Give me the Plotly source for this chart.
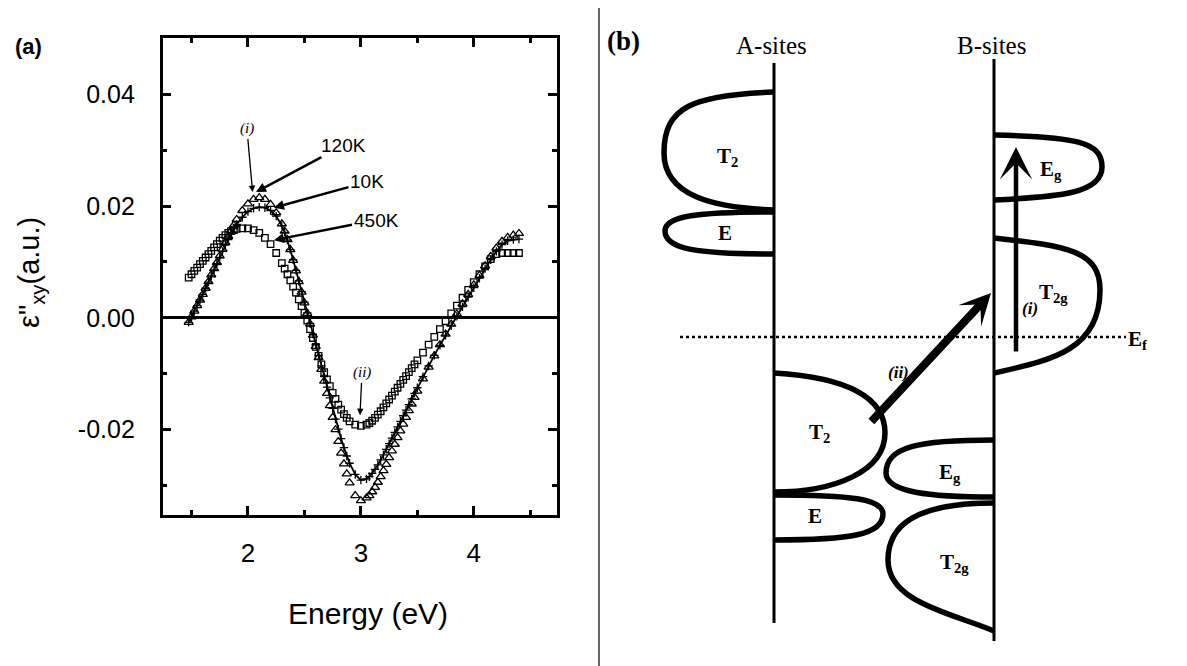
import plotly.graph_objects as go

W, H = 1187, 666
PAGE_MARGIN = 8  # default body margin of the html page: figure is drawn 8px right/down

# ---------------- panel (a) data ----------------
energy = [1.475, 1.500, 1.525, 1.550, 1.575, 1.600, 1.625, 1.650, 1.675, 1.700, 1.725, 1.750, 1.775, 1.800, 1.825, 1.850, 1.875, 1.900,
          1.95, 2.00, 2.05, 2.10, 2.15, 2.20, 2.25, 2.30,
          2.325, 2.350, 2.375, 2.400, 2.425, 2.450, 2.475, 2.500, 2.525, 2.550, 2.575, 2.600, 2.625, 2.650, 2.675, 2.700,
          2.725, 2.750, 2.775, 2.800, 2.825, 2.850, 2.875, 2.900,
          2.95, 3.00, 3.05,
          3.075, 3.100, 3.125, 3.150, 3.175, 3.200, 3.225, 3.250, 3.275, 3.300, 3.325, 3.350, 3.375, 3.400, 3.425, 3.450, 3.475, 3.500,
          3.55, 3.60, 3.65, 3.70, 3.75, 3.80, 3.85, 3.90, 3.95, 4.00, 4.05, 4.10, 4.15, 4.20, 4.25, 4.30, 4.35, 4.40]

eps_120K = [-0.0008, 0.0002, 0.0012, 0.0022, 0.0032, 0.0042, 0.0053, 0.0065, 0.0077, 0.0088, 0.0099, 0.0111, 0.0123, 0.0135, 0.0146, 0.0156, 0.0166, 0.0176,
            0.0192, 0.0204, 0.0212, 0.0215, 0.0212, 0.0203, 0.0188, 0.0168,
            0.0155, 0.0140, 0.0122, 0.0103, 0.0084, 0.0065, 0.0046, 0.0027, 0.0008, -0.0011, -0.0031, -0.0051, -0.0071, -0.0092, -0.0113, -0.0135,
            -0.0157, -0.0178, -0.0200, -0.0221, -0.0242, -0.0261, -0.0279, -0.0295,
            -0.0318, -0.0327, -0.0322,
            -0.0318, -0.0311, -0.0303, -0.0294, -0.0284, -0.0273, -0.0262, -0.0250, -0.0238, -0.0226, -0.0214, -0.0202, -0.0190, -0.0178, -0.0166, -0.0154, -0.0142, -0.0131,
            -0.0109, -0.0088, -0.0068, -0.0048, -0.0029, -0.0011, 0.0007, 0.0025, 0.0042, 0.0059, 0.0076, 0.0093, 0.0110, 0.0125, 0.0137, 0.0144, 0.0148, 0.0151]

eps_10K = [-0.0008, 0.0002, 0.0012, 0.0022, 0.0032, 0.0042, 0.0053, 0.0064, 0.0075, 0.0086, 0.0097, 0.0108, 0.0119, 0.0130, 0.0140, 0.0150, 0.0159, 0.0167,
           0.0180, 0.0190, 0.0196, 0.0198, 0.0197, 0.0192, 0.0182, 0.0165,
           0.0153, 0.0139, 0.0122, 0.0104, 0.0085, 0.0066, 0.0047, 0.0028, 0.0009, -0.0010, -0.0029, -0.0048, -0.0067, -0.0086, -0.0105, -0.0124,
           -0.0143, -0.0162, -0.0181, -0.0199, -0.0216, -0.0232, -0.0247, -0.0260,
           -0.0280, -0.0290, -0.0288,
           -0.0284, -0.0278, -0.0271, -0.0263, -0.0254, -0.0245, -0.0235, -0.0225, -0.0215, -0.0205, -0.0195, -0.0185, -0.0175, -0.0165, -0.0155, -0.0145, -0.0135, -0.0125,
           -0.0105, -0.0086, -0.0067, -0.0049, -0.0031, -0.0014, 0.0003, 0.0020, 0.0037, 0.0054, 0.0071, 0.0088, 0.0104, 0.0119, 0.0131, 0.0138, 0.0140, 0.0141]

eps_450K = [0.0072, 0.0078, 0.0084, 0.0090, 0.0096, 0.0102, 0.0108, 0.0114, 0.0120, 0.0126, 0.0132, 0.0138, 0.0143, 0.0148, 0.0152, 0.0155, 0.0157, 0.0159,
            0.0160, 0.0160, 0.0157, 0.0152, 0.0143, 0.0132, 0.0116, 0.0098,
            0.0088, 0.0078, 0.0067, 0.0056, 0.0045, 0.0033, 0.0021, 0.0009, -0.0005, -0.0020, -0.0036, -0.0052, -0.0068, -0.0083, -0.0097, -0.0110,
            -0.0122, -0.0134, -0.0145, -0.0155, -0.0164, -0.0172, -0.0179, -0.0185,
            -0.0191, -0.0193, -0.0191,
            -0.0188, -0.0184, -0.0179, -0.0173, -0.0167, -0.0160, -0.0153, -0.0146, -0.0139, -0.0132, -0.0125, -0.0118, -0.0111, -0.0104, -0.0097, -0.0090, -0.0083, -0.0076,
            -0.0062, -0.0048, -0.0034, -0.0020, -0.0006, 0.0008, 0.0022, 0.0036, 0.0050, 0.0064, 0.0078, 0.0092, 0.0105, 0.0114, 0.0116, 0.0116, 0.0116, 0.0116]

x_tick_vals = [2, 3, 4]
x_tick_text = ["2", "3", "4"]
x_minor_vals = [1.5, 2.5, 3.5, 4.5]
y_tick_vals = [0.04, 0.02, 0.0, -0.02]
y_tick_text = ["0.04", "0.02", "0.00", "-0.02"]
y_minor_vals = [0.03, 0.01, -0.01, -0.03]
x_range = [1.244, 4.735]
y_range = [-0.0352, 0.0500]

# curve labels: (text, arrow tip E, tip value, text E, text value)
curve_labels = [("120K", 2.071, 0.0225, 2.850, 0.0309),
                ("10K", 2.230, 0.0197, 3.054, 0.0243),
                ("450K", 2.230, 0.0139, 3.134, 0.0175)]
feature_labels = [("(i)", 2.041, 0.0225, 1.991, 0.0338),
                  ("(ii)", 2.992, -0.0174, 3.010, -0.0098)]

# ---------------- panel (b) schematic (canvas units = screen px) ----------------
site_names = ["A-sites", "B-sites"]
site_x = [774, 994]
site_top = [63, 59]
site_bottom = [623, 641]
site_label_y = 45

band_label = ["T<sub>2</sub>", "E", "T<sub>2</sub>", "E", "E<sub>g</sub>", "T<sub>2g</sub>", "E<sub>g</sub>", "T<sub>2g</sub>"]
band_site = [0, 0, 0, 0, 1, 1, 1, 1]
band_side = [-1, -1, 1, 1, 1, 1, -1, -1]
band_top = [92, 212, 373, 495, 135, 238, 440, 503]
band_peak = [153, 231, 433, 514, 167, 290, 473, 560]
band_bottom = [210, 254, 492, 540, 200, 373, 497, 631]
band_extent = [664, 665, 885, 883, 1102, 1100, 886, 888]
band_kt = [0.75, 0.70, 0.60, 0.70, 0.75, 0.70, 0.70, 0.75]
band_dt = [3, 0, 4, 0, 2, 8, 0, 0]
band_kv = [0.75, 0.80, 0.65, 0.80, 0.80, 0.75, 0.80, 0.60]
band_kb = [0.55, 0.70, 0.55, 0.70, 0.60, 0.50, 0.60, 0.40]
band_db = [2, 0, 0, 0, 3, 12, 0, 18]
band_label_x = [727, 725, 819, 815, 1051, 1053, 950, 954]
band_label_y = [157, 233, 433, 516, 170, 293, 473, 563]

fermi_y = 337
fermi_x = [680, 1126]

transition_names = ["(i)", "(ii)"]
transition_tail = [(1016, 353), (870, 423)]
transition_tip = [(1016, 147), (991, 293)]
transition_width = [4.5, 8]
transition_size = [1.2, 0.65]
transition_label_pos = [(1030, 308), (898, 372)]

SANS = "Liberation Sans, Arial, sans-serif"
SERIF = "Liberation Serif, Times New Roman, serif"


def px_x(p):
    return (p - PAGE_MARGIN) / W


def px_y(p):
    return 1 - (p - PAGE_MARGIN) / H


fig = go.Figure()

fig.add_trace(go.Scatter(x=energy, y=eps_450K, mode="markers", name="450K",
                         marker=dict(symbol="square-open", size=6.5, color="black", line=dict(width=1.3, color="black"))))
fig.add_trace(go.Scatter(x=energy, y=eps_10K, mode="lines+markers", name="10K",
                         line=dict(color="black", width=1.8),
                         marker=dict(symbol="cross-thin-open", size=6, color="black", line=dict(width=1.3, color="black"))))
fig.add_trace(go.Scatter(x=energy, y=eps_120K, mode="markers", name="120K",
                         marker=dict(symbol="triangle-up-open", size=8, color="black", line=dict(width=1.3, color="black"))))

# invisible canvas trace for panel b axes
fig.add_trace(go.Scatter(x=[600], y=[300], xaxis="x2", yaxis="y2", mode="markers",
                         marker=dict(size=1, color="rgba(0,0,0,0)"), hoverinfo="skip", showlegend=False))

ax_common = dict(showline=True, linewidth=2.5, linecolor="black", mirror="allticks",
                 ticks="inside", ticklen=9, tickwidth=2.5, tickcolor="black", showgrid=False)

fig.update_layout(
    width=W, height=H, margin=dict(l=0, r=0, t=0, b=0),
    paper_bgcolor="white", plot_bgcolor="rgba(0,0,0,0)", showlegend=False,
    xaxis=dict(domain=[px_x(162.6), px_x(556.8)], range=x_range, tickvals=x_tick_vals, ticktext=x_tick_text,
               tickfont=dict(family=SANS, size=26, color="black"), ticklabelstandoff=13,
               minor=dict(tickvals=x_minor_vals, ticks="inside", ticklen=5, tickwidth=2.5, tickcolor="black"),
               zeroline=False, **ax_common),
    yaxis=dict(domain=[px_y(514.7), px_y(38.3)], range=y_range, tickvals=y_tick_vals, ticktext=y_tick_text,
               tickfont=dict(family=SANS, size=25, color="black"), ticklabelstandoff=20,
               minor=dict(tickvals=y_minor_vals, ticks="inside", ticklen=5, tickwidth=2.5, tickcolor="black"),
               zeroline=True, zerolinecolor="black", zerolinewidth=2.5, **ax_common),
    xaxis2=dict(domain=[0, 1], range=[PAGE_MARGIN, W + PAGE_MARGIN], visible=False, anchor="y2"),
    yaxis2=dict(domain=[0, 1], range=[H + PAGE_MARGIN, PAGE_MARGIN], visible=False, anchor="x2"),
)

ann = []
# panel (a) texts
ann.append(dict(xref="paper", yref="paper", x=px_x(28), y=px_y(47), xanchor="center", yanchor="middle",
                text="<b>(a)</b>", showarrow=False, font=dict(family=SANS, size=22, color="black")))
ann.append(dict(xref="paper", yref="paper", x=px_x(368), y=px_y(613), xanchor="center", yanchor="middle",
                text="Energy (eV)", showarrow=False, font=dict(family=SANS, size=30, color="black")))
ann.append(dict(xref="paper", yref="paper", x=px_x(31), y=px_y(273), xanchor="center", yanchor="middle",
                text="ε\"<sub>xy</sub>(a.u.)", showarrow=False,
                textangle=-90, font=dict(family=SANS, size=29, color="black")))
for txt, tx, ty, lx, ly in curve_labels:
    ann.append(dict(xref="x", yref="y", axref="x", ayref="y", x=tx, y=ty, ax=lx, ay=ly, text=txt,
                    showarrow=True, arrowhead=2, arrowsize=0.8, arrowwidth=2.5, arrowcolor="black",
                    font=dict(family=SANS, size=19, color="black")))
for txt, tx, ty, lx, ly in feature_labels:
    ann.append(dict(xref="x", yref="y", axref="x", ayref="y", x=tx, y=ty, ax=lx, ay=ly, text="<i>" + txt + "</i>",
                    showarrow=True, arrowhead=2, arrowsize=1, arrowwidth=1.3, arrowcolor="black",
                    font=dict(family=SERIF, size=15, color="black")))

# panel (b) texts
ann.append(dict(xref="x2", yref="y2", x=623, y=41, text="<b>(b)</b>", showarrow=False,
                font=dict(family=SERIF, size=27, color="black")))
for name, sx in zip(site_names, site_x):
    ann.append(dict(xref="x2", yref="y2", x=sx - 3, y=site_label_y, text=name, showarrow=False,
                    font=dict(family=SERIF, size=25, color="black")))
for lab, lx, ly in zip(band_label, band_label_x, band_label_y):
    ann.append(dict(xref="x2", yref="y2", x=lx, y=ly, text="<b>" + lab + "</b>", showarrow=False,
                    font=dict(family=SERIF, size=21, color="black")))
ann.append(dict(xref="x2", yref="y2", x=fermi_x[1] + 12, y=fermi_y + 3, text="<b>E<sub>f</sub></b>", showarrow=False,
                font=dict(family=SERIF, size=21, color="black")))
for name, tail, tip, w, s, lp in zip(transition_names, transition_tail, transition_tip,
                                     transition_width, transition_size, transition_label_pos):
    ann.append(dict(xref="x2", yref="y2", axref="x2", ayref="y2", x=tip[0], y=tip[1], ax=tail[0], ay=tail[1],
                    text="", showarrow=True, arrowhead=3, arrowsize=s, arrowwidth=w, arrowcolor="black"))
    ann.append(dict(xref="x2", yref="y2", x=lp[0], y=lp[1], text="<b><i>" + name + "</i></b>", showarrow=False,
                    font=dict(family=SERIF, size=17, color="black")))

fig.update_layout(annotations=ann)

shapes = []
# separator
shapes.append(dict(type="line", xref="x2", yref="y2", x0=599, x1=599, y0=0, y1=H + PAGE_MARGIN,
                   line=dict(color="#333333", width=1.5)))
# site axes
for sx, st, sb in zip(site_x, site_top, site_bottom):
    shapes.append(dict(type="line", xref="x2", yref="y2", x0=sx, x1=sx, y0=st, y1=sb,
                       line=dict(color="black", width=3)))
# fermi level
shapes.append(dict(type="line", xref="x2", yref="y2", x0=fermi_x[0], x1=fermi_x[1], y0=fermi_y, y1=fermi_y,
                   line=dict(color="black", width=2.5, dash="dot")))


def lobe_path(ax, s, yt, ym, yb, xe, kt, dt, kv, kb, db):
    w = abs(xe - ax)
    c1 = (ax + s * kt * w, yt + dt)
    c2 = (xe, ym - kv * (ym - yt))
    c3 = (xe, ym + kv * (yb - ym))
    c4 = (ax + s * kb * w, yb - db)
    return (f"M {ax},{yt} C {c1[0]:.1f},{c1[1]:.1f} {c2[0]:.1f},{c2[1]:.1f} {xe},{ym} "
            f"C {c3[0]:.1f},{c3[1]:.1f} {c4[0]:.1f},{c4[1]:.1f} {ax},{yb}")


for i in range(len(band_label)):
    p = lobe_path(site_x[band_site[i]], band_side[i], band_top[i], band_peak[i], band_bottom[i],
                  band_extent[i], band_kt[i], band_dt[i], band_kv[i], band_kb[i], band_db[i])
    shapes.append(dict(type="path", xref="x2", yref="y2", path=p,
                       line=dict(color="black", width=5.5), fillcolor="rgba(0,0,0,0)"))

fig.update_layout(shapes=shapes)

fig.write_html("out.html")
